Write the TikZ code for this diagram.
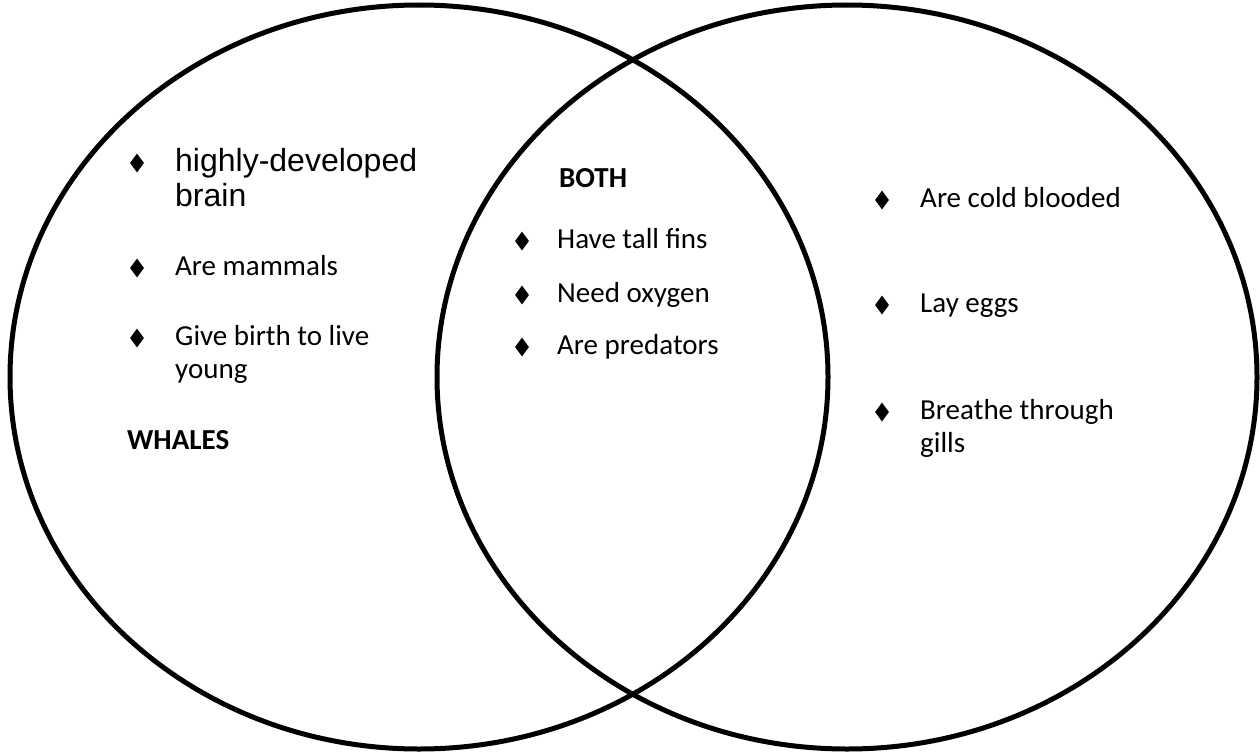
\documentclass[tikz,border=0pt]{standalone}
\usepackage{fontspec}
\usepackage{tikz}
\usetikzlibrary{shapes.geometric}
\newfontfamily\calibri{Carlito}
\newfontfamily\arial{Liberation Sans}

\begin{document}
\begin{tikzpicture}[x=1pt,y=-1pt,
		bullet/.style={diamond,fill,inner sep=0pt,minimum width=14pt,minimum height=19pt},
		itemtext/.style={anchor=base west,inner sep=0pt,align=left,font=\calibri\fontsize{29}{33}\selectfont},
		heading/.style={itemtext,font=\calibri\bfseries\fontsize{29}{33}\selectfont}]
		\useasboundingbox (0,0) rectangle (1260,752);
		\draw[line width=5pt] (419,377) ellipse [x radius=409pt, y radius=372pt];
		\draw[line width=5pt] (847,377) ellipse [x radius=410pt, y radius=372pt];
		% whales (two-line items sit on the baseline of their last line)
		\node[bullet] (b1) at (137,163) {};
		\node[itemtext,font=\arial\fontsize{32}{35}\selectfont] (w1) at (175,206) {highly-developed\\brain};
		\node[bullet] (b2) at (137,268) {};
		\node[itemtext] (w2) at (175,275) {Are mammals};
		\node[bullet] (b3) at (137,338) {};
		\node[itemtext] (w3) at (175,378) {Give birth to live\\young};
		\node[heading] (whales) at (127,449) {WHALES};
		% both
		\node[heading] (both) at (559,187) {BOTH};
		\node[bullet] (b4) at (522,241) {};
		\node[itemtext] (m1) at (557,248) {Have tall fins};
		\node[bullet] (b5) at (522,295) {};
		\node[itemtext] (m2) at (557,302) {Need oxygen};
		\node[bullet] (b6) at (522,347) {};
		\node[itemtext] (m3) at (557,354) {Are predators};
		% sharks
		\node[bullet] (b7) at (882,200) {};
		\node[itemtext] (s1) at (920,207) {Are cold blooded};
		\node[bullet] (b8) at (882,305) {};
		\node[itemtext] (s2) at (920,312) {Lay eggs};
		\node[bullet] (b9) at (882,412) {};
		\node[itemtext] (s3) at (920,452) {Breathe through\\gills};
	\end{tikzpicture}
\end{document}
